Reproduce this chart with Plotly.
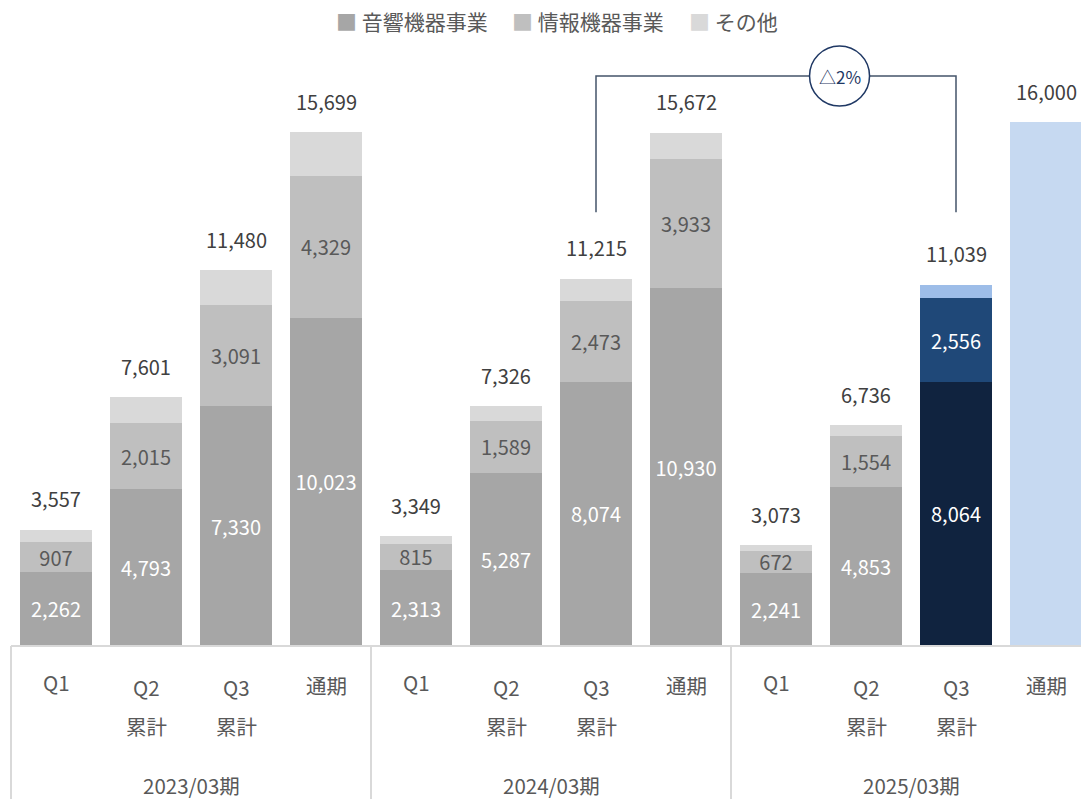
import plotly.graph_objects as go

# ---- data -------------------------------------------------------------
periods = ["2023/03期", "2024/03期", "2025/03期"]
stage_lines = [["Q1"], ["Q2", "累計"], ["Q3", "累計"], ["通期"]]

audio = [2262, 4793, 7330, 10023, 2313, 5287, 8074, 10930, 2241, 4853, 8064, None]
info = [907, 2015, 3091, 4329, 815, 1589, 2473, 3933, 672, 1554, 2556, None]
totals = [3557, 7601, 11480, 15699, 3349, 7326, 11215, 15672, 3073, 6736, 11039, 16000]
forecast = [None] * 11 + [16000]

series_names = ["音響機器事業", "情報機器事業", "その他"]

# remainder of each bar belongs to "その他"
other = [t - a - i if a is not None else None for t, a, i in zip(totals, audio, info)]

n = len(totals)
x = list(range(n))
HL = 10  # current-year Q3 cumulative, highlighted in blue
PREV = 6  # same period one year earlier

# ---- styling ----------------------------------------------------------
FONT = "Noto Sans CJK JP"
GREY = ["#a6a6a6", "#bfbfbf", "#d9d9d9"]
BLUE = ["#10233f", "#1f4878", "#9dbde8"]
FORECAST = "#c6d9f1"
TXT = "#404040"
CAT = "#595959"
CAT_SIZE = 20.5

W, H = 1081, 799
ML, MR, MT, MB = 11, 0, 40, 153
PX_PER_CAT = 90.0
x_span = (W - ML - MR) / PX_PER_CAT
x_range = [-0.5, -0.5 + x_span]
y_max = 18510
BAR_W = 0.79


def colors(i):
    return [BLUE[i] if k == HL else GREY[i] for k in range(n)]


fig = go.Figure()

fig.add_bar(
    x=x, y=audio, width=BAR_W, name=series_names[0],
    marker=dict(color=colors(0), line_width=0),
    text=[f"{v:,}" if v else "" for v in audio],
    textposition="inside", insidetextanchor="middle",
    textfont=dict(family=FONT, size=20, color="white"),
    hoverinfo="skip",
)
fig.add_bar(
    x=x, y=info, width=BAR_W, name=series_names[1],
    marker=dict(color=colors(1), line_width=0),
    text=[f"{v:,}" if v else "" for v in info],
    textposition="inside", insidetextanchor="middle",
    textfont=dict(family=FONT, size=20,
                  color=["white" if k == HL else CAT for k in range(n)]),
    hoverinfo="skip",
)
fig.add_bar(
    x=x, y=other, width=BAR_W, name=series_names[2],
    marker=dict(color=colors(2), line_width=0),
    hoverinfo="skip",
)
fig.add_bar(
    x=x, y=forecast, width=BAR_W, name="予想",
    marker=dict(color=FORECAST, line_width=0),
    hoverinfo="skip",
)

annotations = []

# totals above each bar
for k, t in enumerate(totals):
    annotations.append(dict(
        x=k, y=t, xref="x", yref="y", text=f"{t:,}", showarrow=False,
        yanchor="middle", yshift=31,
        font=dict(family=FONT, size=20, color=TXT),
    ))

# category labels under the axis
first_shift = {0: -36, 1: -41, 2: -41, 3: -39}
for k in range(n):
    s = k % 4
    lines = stage_lines[s]
    annotations.append(dict(
        x=k, y=0, xref="x", yref="paper", text=lines[0], showarrow=False,
        yanchor="middle", yshift=first_shift[s],
        font=dict(family=FONT, size=CAT_SIZE, color=CAT),
    ))
    if len(lines) > 1:
        annotations.append(dict(
            x=k, y=0, xref="x", yref="paper", text=lines[1], showarrow=False,
            yanchor="middle", yshift=-80,
            font=dict(family=FONT, size=CAT_SIZE, color=CAT),
        ))

# fiscal-year group labels
for g, p in enumerate(periods):
    annotations.append(dict(
        x=g * 4 + 1.5, y=0, xref="x", yref="paper", text=p, showarrow=False,
        yanchor="middle", yshift=-139,
        font=dict(family=FONT, size=CAT_SIZE, color=CAT),
    ))

# legend row
legend_left_px = [334, 510, 687]
for name, col, px in zip(series_names, GREY, legend_left_px):
    annotations.append(dict(
        x=(px - ML) / (W - ML - MR), y=1, xref="paper", yref="paper",
        xanchor="left", yanchor="middle", yshift=MT - 21,
        text=f"<span style='color:{col}'>■</span> {name}", showarrow=False,
        font=dict(family=FONT, size=21, color=CAT),
    ))

shapes = []

# axis baseline and fiscal-year separators
shapes.append(dict(type="line", xref="paper", yref="paper", x0=0, x1=1, y0=0, y1=0,
                   line=dict(color="#d9d9d9", width=2)))
for g in range(len(periods) + 1):
    xp = (g * 4 - 0.5 - x_range[0]) / x_span
    shapes.append(dict(type="line", xref="paper", yref="paper", x0=xp, x1=xp,
                       y0=0, y1=-0.3, line=dict(color="#d9d9d9", width=2)))

# year-on-year comparison bracket
br_low, br_high = 13250, 17410
shapes.append(dict(
    type="path", xref="x", yref="y",
    path=f"M {PREV},{br_low} L {PREV},{br_high} L {HL},{br_high} L {HL},{br_low}",
    line=dict(color="#44546a", width=1.5),
))
circle_x = 8.706
shapes.append(dict(
    type="circle", xref="x", yref="y",
    xsizemode="pixel", ysizemode="pixel",
    xanchor=circle_x, yanchor=br_high,
    x0=-30, x1=30, y0=-30, y1=30,
    fillcolor="white", line=dict(color="#1f3864", width=1.5),
))
change = round((totals[HL] / totals[PREV] - 1) * 100)
change_txt = f"△{abs(change)}%" if change < 0 else f"+{change}%"
annotations.append(dict(
    x=circle_x, y=br_high, xref="x", yref="y", text=change_txt, showarrow=False,
    font=dict(family=FONT, size=17, color="#1f3864"),
))

fig.update_layout(
    width=W, height=H,
    margin=dict(l=ML, r=MR, t=MT, b=MB, pad=0),
    barmode="stack",
    showlegend=False,
    plot_bgcolor="white", paper_bgcolor="white",
    uniformtext=dict(minsize=20, mode="show"),
    xaxis=dict(range=x_range, showticklabels=False, showgrid=False,
               zeroline=False, showline=False, fixedrange=True),
    yaxis=dict(range=[0, y_max], visible=False, fixedrange=True),
    annotations=annotations,
    shapes=shapes,
    font=dict(family=FONT),
)

fig.write_html("out.html")
